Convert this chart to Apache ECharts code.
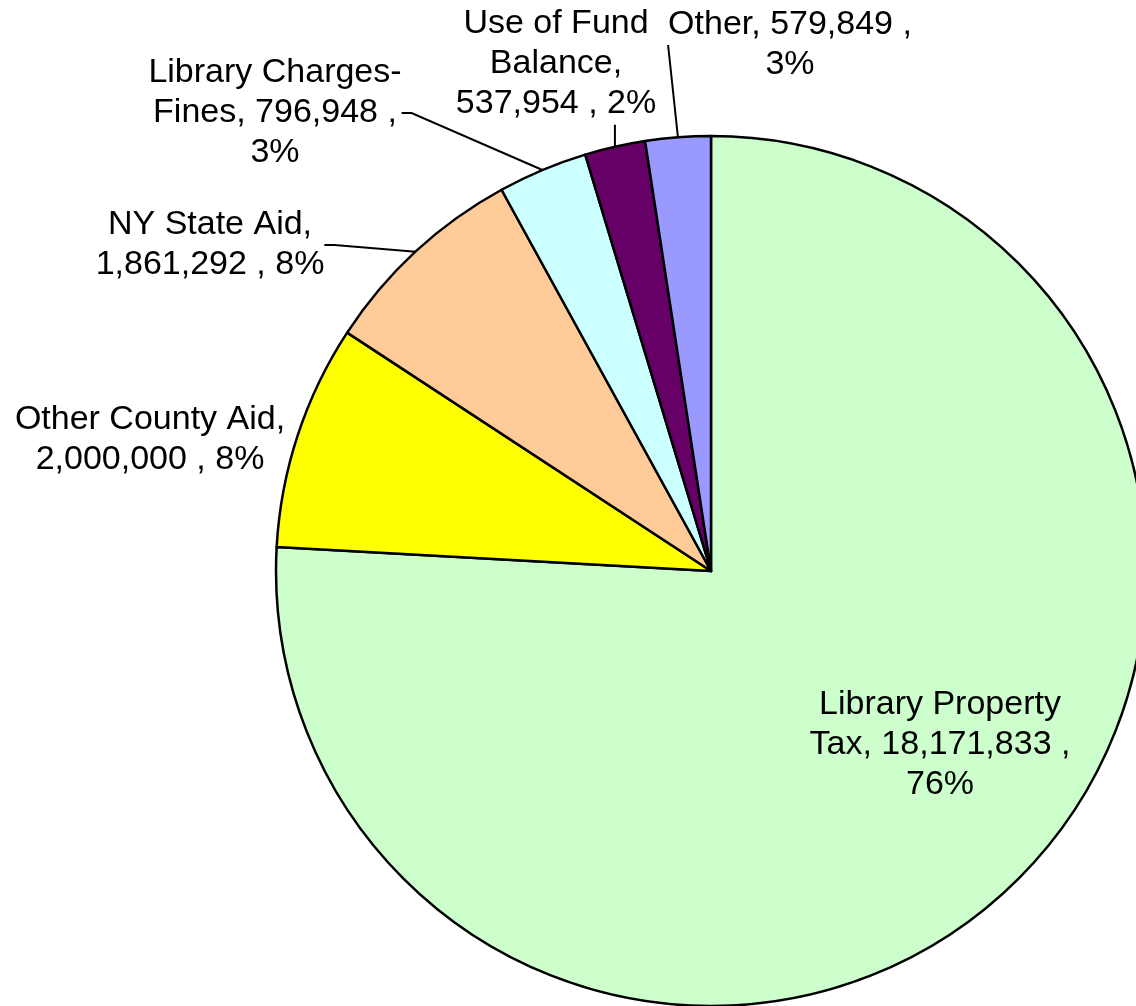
<!DOCTYPE html>
<html>
<head>
<meta charset="utf-8">
<script src="https://cdn.jsdelivr.net/npm/echarts@6/dist/echarts.min.js"></script>
<style>
  html, body { margin: 0; padding: 0; background: #fff; }
  #pie-chart { width: 1136px; height: 1006px; }
</style>
</head>
<body>
<div id="pie-chart"></div>
<script>
// slice data, clockwise from 12 o'clock
var categories = ['Library Property\nTax', 'Other County Aid', 'NY State Aid', 'Library Charges-\nFines', 'Use of Fund\nBalance', 'Other'];
var values = [18171833, 2000000, 1861292, 796948, 537954, 579849];
var colors = ['#CCFFCC', '#FFFF00', '#FFCC99', '#CCFFFF', '#660066', '#9999FF'];

// label placement (block centre) and where the line break goes
var labelPos = [[940, 745], [150, 440], [210, 245], [275, 113], [556, 64], [790, 45]];
var breakAfterValue = [true, false, false, true, false, true];

function fmt(n) {
    return String(n).replace(/\B(?=(\d{3})+(?!\d))/g, ',');
}

var chart = echarts.init(document.getElementById('pie-chart'), null, { renderer: 'canvas' });

var data = categories.map(function (name, i) {
    var item = {
        name: name,
        value: values[i],
        itemStyle: { color: colors[i] }
    };
    if (i === 0) {
        item.label = { position: 'inside' };
        item.labelLine = { show: false };
    }
    if (i === 1) {
        item.labelLine = { show: false };
    }
    return item;
});

var options = {
    backgroundColor: '#ffffff',
    animation: false,
    series: [{
        type: 'pie',
        center: [711, 571],
        radius: 435,
        startAngle: 90,
        clockwise: true,
        percentPrecision: 0,
        avoidLabelOverlap: false,
        data: data,
        itemStyle: {
            borderColor: '#000',
            borderWidth: 2.5
        },
        label: {
            show: true,
            color: '#000',
            fontFamily: '"Liberation Sans", Arial, sans-serif',
            fontSize: 34,
            lineHeight: 40,
            align: 'center',
            formatter: function (p) {
                var i = p.dataIndex;
                if (breakAfterValue[i]) {
                    return p.name + ', ' + fmt(p.value) + ' ,\n' + p.percent + '%';
                }
                return p.name + ',\n' + fmt(p.value) + ' , ' + p.percent + '%';
            }
        },
        labelLine: {
            show: true,
            length: 10,
            length2: 10,
            lineStyle: { color: '#000', width: 2 }
        },
        labelLayout: function (params) {
            var i = params.dataIndex;
            var pos = labelPos[i];
            var out = {
                x: pos[0],
                y: pos[1],
                align: 'center',
                verticalAlign: 'middle'
            };
            if (i === 4) {
                // short vertical leader straight up from the slice
                var pts = params.labelLinePoints;
                if (pts && pts.length) {
                    var a = pts[0];
                    out.labelLinePoints = [[a[0], a[1]], [a[0], a[1] - 11], [a[0], a[1] - 22]];
                }
            }
            return out;
        }
    }]
};

chart.setOption(options);
</script>
</body>
</html>
